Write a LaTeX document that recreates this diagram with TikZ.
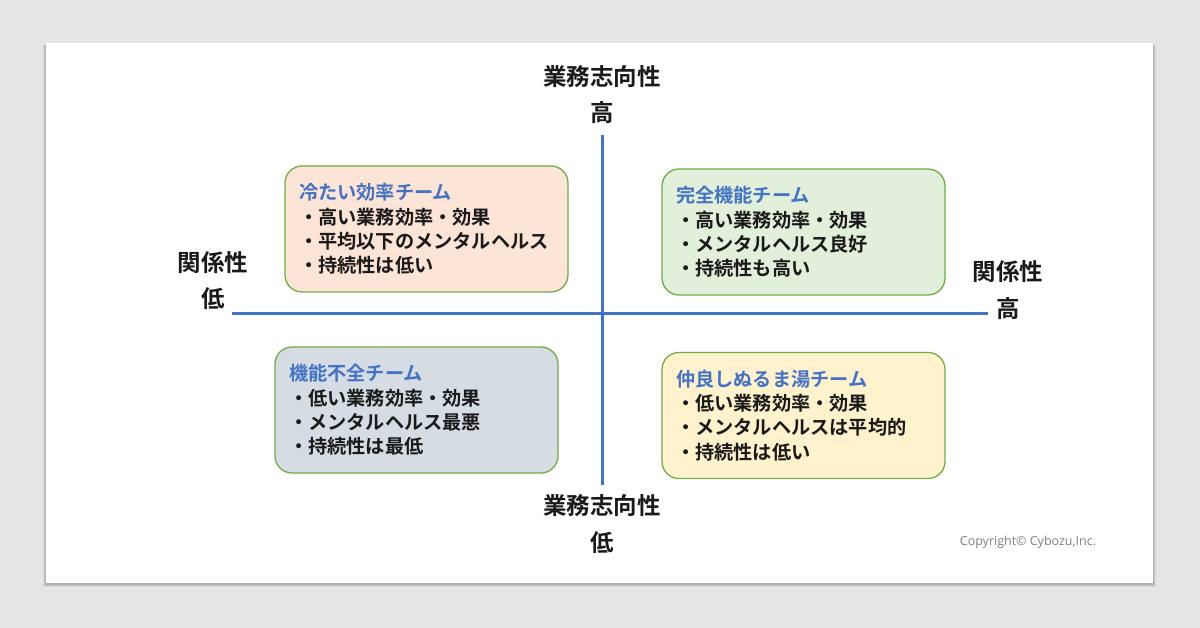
\documentclass[tikz,border=0pt]{standalone}
\usepackage{fontspec}
\setmainfont{Noto Sans CJK JP}[BoldFont={Noto Sans CJK JP Bold}]
\newfontfamily\copyfont{Open Sans}
\definecolor{bgc}{HTML}{E6E5E5}
\definecolor{axisblue}{HTML}{4472C4}
\definecolor{boxgreen}{HTML}{70AD47}
\definecolor{peach}{HTML}{FCE4D6}
\definecolor{mint}{HTML}{E2EFDA}
\definecolor{slate}{HTML}{D6DCE4}
\definecolor{cream}{HTML}{FFF2CC}
\definecolor{txt}{HTML}{1A1A1A}
\begin{document}
\begin{tikzpicture}[x=1pt,y=-1pt,
  axis/.style={draw=axisblue,line width=3pt},
  axlabel/.style={font=\fontsize{23.5}{27}\selectfont\bfseries,text=txt,inner sep=0pt,align=center},
  quad/.style={draw=boxgreen,line width=1.3pt,rounded corners=17pt,minimum width=283pt,minimum height=126pt,text width=255pt,inner xsep=14pt,align=left,font=\fontsize{19.2}{24.3}\selectfont\bfseries,text=txt},
  qtitle/.style={text=axisblue}
]
\useasboundingbox (0,0) rectangle (1200,628);
\fill[bgc] (0,0) rectangle (1200,628);
% panel shadow
\fill[black,opacity=0.06] (43,45) rectangle (1156,587);
\fill[black,opacity=0.08] (44,45) rectangle (1155,586);
\fill[black,opacity=0.10] (45,44) rectangle (1154,585);
\node[fill=white,inner sep=0pt,minimum width=1107pt,minimum height=540pt,anchor=north west] (panel) at (46,43) {};
% axes
\coordinate (hl) at (232,314);
\coordinate (hr) at (988,314);
\coordinate (vt) at (602,135);
\coordinate (vb) at (602,485);
\draw[axis] (hl) -- (hr);
\draw[axis] (vt) -- (vb);
% axis labels
\node[axlabel] (topl) at (602,77) {業務志向性};
\node[axlabel] (tophi) at (602,113) {高};
\node[axlabel] (botl) at (602,506) {業務志向性};
\node[axlabel] (botlo) at (602,543) {低};
\node[axlabel] (leftl) at (213,263) {関係性};
\node[axlabel] (leftlo) at (213,299) {低};
\node[axlabel] (rightl) at (1008,272) {関係性};
\node[axlabel] (righthi) at (1008,309) {高};
% quadrants
\node[quad,fill=peach] (q1) at (426.5,229) {\textcolor{axisblue}{冷たい効率チーム}\\・高い業務効率・効果\\・平均以下のメンタルヘルス\\・持続性は低い};
\node[quad,fill=mint] (q2) at (803.5,232) {\textcolor{axisblue}{完全機能チーム}\\・高い業務効率・効果\\・メンタルヘルス良好\\・持続性も高い};
\node[quad,fill=slate] (q3) at (416.5,410) {\textcolor{axisblue}{機能不全チーム}\\・低い業務効率・効果\\・メンタルヘルス最悪\\・持続性は最低};
\node[quad,fill=cream] (q4) at (803.5,415.5) {\textcolor{axisblue}{仲良しぬるま湯チーム}\\・低い業務効率・効果\\・メンタルヘルスは平均的\\・持続性は低い};
% copyright
\node[font=\copyfont\fontsize{12.5}{14}\selectfont,text=black!50,inner sep=0pt] (copy) at (1028,542) {Copyright© Cybozu,Inc.};
\end{tikzpicture}
\end{document}
